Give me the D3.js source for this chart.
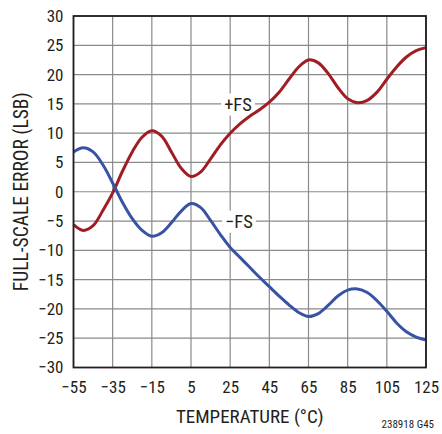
<!DOCTYPE html>
<html><head><meta charset="utf-8">
<script src="https://cdn.jsdelivr.net/npm/d3@7"></script>
<style>
body{margin:0;background:#fff;}
svg text{font-family:"Liberation Sans Narrow","Roboto Condensed","Liberation Sans",Arial,sans-serif;fill:#231f20;}
</style></head>
<body><svg id="c" width="442" height="434"></svg>
<script>
const temps = [-55,-50,-45,-40,-35,-30,-25,-20,-15,-10,-5,0,5,10,15,20,25,30,35,40,45,50,55,60,65,70,75,80,85,90,95,100,105,110,115,120,125];
const plusFS = [-5.6,-6.6,-5.8,-3.2,-0.2,3.5,6.8,9.3,10.4,9.5,6.8,4.0,2.6,3.4,5.6,8.0,10.0,11.6,12.9,14.0,15.3,17.0,19.2,21.3,22.5,22.0,20.2,17.8,15.9,15.2,15.6,17.0,19.2,21.3,23.0,24.1,24.6];
const minusFS = [6.8,7.5,6.8,4.6,1.5,-1.8,-4.6,-6.6,-7.6,-7.0,-5.3,-3.3,-2.0,-2.7,-4.9,-7.3,-9.5,-11.2,-12.9,-14.6,-16.2,-17.8,-19.3,-20.6,-21.3,-20.8,-19.4,-17.8,-16.8,-16.6,-17.2,-18.6,-20.4,-22.4,-23.9,-24.8,-25.3];
const xTicks = [-55,-35,-15,5,25,45,65,85,105,125];
const yTicks = [-30,-25,-20,-15,-10,-5,0,5,10,15,20,25,30];
const xTitle = "TEMPERATURE (°C)";
const yTitle = "FULL-SCALE ERROR (LSB)";
const note = "238918 G45";

const svg = d3.select("#c");
const L=73.5, R=426, T=16, B=367.5;
const x = d3.scaleLinear().domain([-55,125]).range([L,R]);
const y = d3.scaleLinear().domain([-30,30]).range([B,T]);

// grid
const g = svg.append("g");
g.selectAll(".vg").data(xTicks).join("line")
 .attr("x1",d=>x(d)).attr("x2",d=>x(d)).attr("y1",T).attr("y2",B)
 .attr("stroke","#8a8a8a").attr("stroke-width",1.2);
g.selectAll(".hg").data(yTicks).join("line")
 .attr("y1",d=>y(d)).attr("y2",d=>y(d)).attr("x1",L).attr("x2",R)
 .attr("stroke","#8a8a8a").attr("stroke-width",1.2);

// axes (labels only)
const xa = svg.append("g").attr("transform",`translate(0,${B})`)
 .call(d3.axisBottom(x).tickValues(xTicks).tickSize(0).tickPadding(13).tickFormat(d=>String(d).replace("-","\u2212")));
xa.select(".domain").remove();
xa.selectAll("text").attr("font-size",17).style("font-family",null);
const ya = svg.append("g").attr("transform",`translate(${L},0)`)
 .call(d3.axisLeft(y).tickValues(yTicks).tickSize(0).tickPadding(10).tickFormat(d=>String(d).replace("-","\u2212")));
ya.select(".domain").remove();
ya.selectAll("text").attr("font-size",17).style("font-family",null);

// labels on lines
function lab(txt, t, v){
  const tx = svg.append("text").attr("x",x(t)).attr("y",y(v)).attr("dy","0.36em")
    .attr("text-anchor","middle").attr("font-size",18.5).text(txt);
  const bb = tx.node().getBBox();
  svg.insert("rect", () => tx.node()).attr("x",bb.x-3).attr("y",bb.y).attr("width",bb.width+6).attr("height",bb.height).attr("fill","#fff");
}
lab("+FS", 29, 15);
lab("\u2212FS", 29.5, -5);

const line = d3.line().x((d,i)=>x(temps[i])).y(d=>y(d)).curve(d3.curveCatmullRom.alpha(0.5));
svg.append("path").datum(plusFS).attr("d",line).attr("fill","none").attr("stroke","#a11d24").attr("stroke-width",3);
svg.append("path").datum(minusFS).attr("d",line).attr("fill","none").attr("stroke","#3853a4").attr("stroke-width",3);

// frame
svg.append("rect").attr("x",L).attr("y",T).attr("width",R-L).attr("height",B-T).attr("fill","none").attr("stroke","#231f20").attr("stroke-width",1.8);

svg.append("text").attr("x",(L+R)/2).attr("y",423).attr("text-anchor","middle").attr("font-size",19).text(xTitle);
svg.append("text").attr("transform",`translate(28,${(T+B)/2}) rotate(-90)`).attr("text-anchor","middle").attr("font-size",19.5).text(yTitle);
svg.append("text").attr("x",434).attr("y",428).attr("text-anchor","end").attr("font-size",11).text(note);
</script></body></html>
